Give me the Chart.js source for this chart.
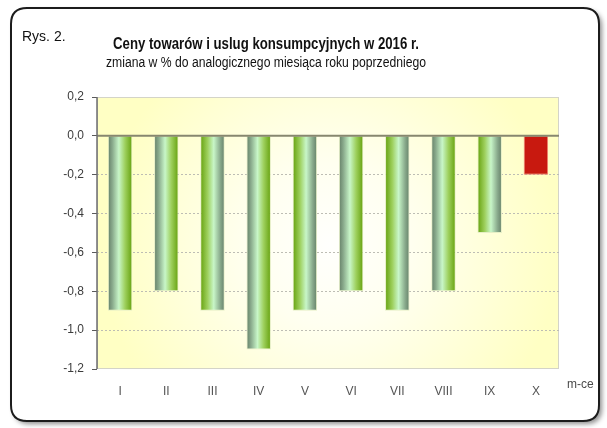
<!DOCTYPE html>
<html>
<head>
<meta charset="utf-8">
<script src="https://cdn.jsdelivr.net/npm/chart.js@4"></script>
<style>
  html, body { margin: 0; padding: 0; background: #fff; }
  #wrap { width: 607px; height: 428px; }
</style>
</head>
<body>
<div id="wrap"><canvas id="cpiChart" width="607" height="428"></canvas></div>
<script>
// Data
const months = ["I", "II", "III", "IV", "V", "VI", "VII", "VIII", "IX", "X"];
const changes = [-0.9, -0.8, -0.9, -1.1, -0.9, -0.8, -0.9, -0.8, -0.5, -0.2];
const yTicks = [0.2, 0, -0.2, -0.4, -0.6, -0.8, -1.0, -1.2];
const figureLabel = "Rys. 2.";
const titleText = "Ceny towarów i uslug konsumpcyjnych w 2016 r.";
const subtitleText = "zmiana w % do analogicznego miesiąca roku poprzedniego";
const axisUnit = "m-ce";

const highlightIndex = 9;          // last month drawn in red
const greenLeft = [2, 4, 6, 8];    // bars whose bright side is on the left
const barPct = 0.53;
const FONT = "'Liberation Sans', Arial, sans-serif";

function barFill(ctx) {
  const i = ctx.dataIndex;
  if (i === highlightIndex) return "#c8190f";
  const chart = ctx.chart;
  const xs = chart.scales && chart.scales.x;
  if (i === undefined || !xs) return "#8fc060";
  const center = xs.getPixelForValue(i);
  const half = (xs.width / months.length) * barPct / 2;
  if (!isFinite(center) || !isFinite(half) || half <= 0) return "#8fc060";
  const g = chart.ctx.createLinearGradient(center - half, 0, center + half, 0);
  const stops = [
    [0, "#647f67"], [0.18, "#88a98b"], [0.45, "#c8f6c8"], [0.7, "#9ed05e"], [1, "#64a00c"]
  ];
  const flip = greenLeft.includes(i);
  stops.forEach(([p, c]) => g.addColorStop(flip ? 1 - p : p, c));
  return g;
}

function roundRect(c, x, y, w, h, r) {
  c.beginPath();
  c.moveTo(x + r, y);
  c.lineTo(x + w - r, y);
  c.quadraticCurveTo(x + w, y, x + w, y + r);
  c.lineTo(x + w, y + h - r);
  c.quadraticCurveTo(x + w, y + h, x + w - r, y + h);
  c.lineTo(x + r, y + h);
  c.quadraticCurveTo(x, y + h, x, y + h - r);
  c.lineTo(x, y + r);
  c.quadraticCurveTo(x, y, x + r, y);
  c.closePath();
}

const decor = {
  id: "decor",
  beforeDraw(chart) {
    const c = chart.ctx;
    const a = chart.chartArea;
    // outer frame with soft shadow
    c.save();
    c.shadowColor = "rgba(0,0,0,0.45)";
    c.shadowBlur = 5;
    c.shadowOffsetX = 3;
    c.shadowOffsetY = 3;
    roundRect(c, 11, 8, 588, 413, 16);
    c.fillStyle = "#fff";
    c.fill();
    c.restore();
    c.save();
    roundRect(c, 11, 8, 588, 413, 16);
    c.lineWidth = 2;
    c.strokeStyle = "#1c1c1c";
    c.stroke();
    c.restore();

    // plot background
    c.save();
    const g = c.createRadialGradient(330, 245, 0, 330, 245, 230);
    g.addColorStop(0, "#fffffd");
    g.addColorStop(0.35, "#fffff0");
    g.addColorStop(1, "#ffffc4");
    c.fillStyle = g;
    c.fillRect(a.left, a.top, a.right - a.left, a.bottom - a.top);
    c.strokeStyle = "#d4d4c8";
    c.lineWidth = 1;
    c.strokeRect(a.left + 0.5, a.top + 0.5, a.right - a.left - 1, a.bottom - a.top - 1);
    c.restore();
  },
  afterDatasetsDraw(chart) {
    const c = chart.ctx;
    const a = chart.chartArea;
    const ys = chart.scales.y;
    const y0 = ys.getPixelForValue(0);
    c.save();
    c.strokeStyle = "#87876f";
    c.lineWidth = 2;
    c.beginPath();
    c.moveTo(a.left, y0);
    c.lineTo(a.right, y0);
    c.stroke();
    c.strokeStyle = "#6e6e6e";
    c.lineWidth = 1.5;
    c.beginPath();
    c.moveTo(a.left, a.top);
    c.lineTo(a.left, a.bottom);
    c.stroke();
    c.restore();
  },
  afterDraw(chart) {
    const c = chart.ctx;
    const a = chart.chartArea;
    c.save();
    c.fillStyle = "#111";
    c.textBaseline = "middle";
    c.textAlign = "left";
    c.font = "14px " + FONT;
    c.fillText(figureLabel, 22, 37, 45);
    c.textAlign = "center";
    c.font = "bold 16px " + FONT;
    c.fillText(titleText, 266, 45, 306);
    c.font = "14px " + FONT;
    c.fillText(subtitleText, 266, 63, 320);
    c.textAlign = "left";
    c.fillStyle = "#4a4a4a";
    c.font = "12px " + FONT;
    c.fillText(axisUnit, a.right + 8, 385);
    c.restore();
  }
};

new Chart(document.getElementById("cpiChart"), {
  type: "bar",
  data: {
    labels: months,
    datasets: [{
      data: changes,
      backgroundColor: barFill,
      borderColor: (ctx) => ctx.dataIndex === highlightIndex ? "#ee8070" : "#e6efc6",
      borderWidth: 1,
      barPercentage: barPct,
      categoryPercentage: 1
    }]
  },
  options: {
    responsive: false,
    animation: false,
    layout: { padding: { top: 97, right: 48, left: 0, bottom: 0 } },
    plugins: {
      legend: { display: false },
      tooltip: { enabled: false }
    },
    scales: {
      x: {
        grid: { display: false },
        border: { display: false },
        ticks: { color: "#555", padding: 7, font: { family: FONT, size: 12 } },
        afterFit(s) { s.height = 59; }
      },
      y: {
        min: -1.2,
        max: 0.2,
        afterBuildTicks(s) { s.ticks = yTicks.map(v => ({ value: v })); },
        ticks: {
          color: "#3c3c3c",
          padding: 8,
          font: { family: FONT, size: 12 },
          callback: (v) => (Math.abs(v) < 1e-9 ? 0 : v).toFixed(1).replace(".", ",")
        },
        grid: {
          color: (ctx) => {
            const v = ctx.tick ? ctx.tick.value : 0;
            return (Math.abs(v) < 1e-9 || v > 0.1 || v < -1.1) ? "rgba(0,0,0,0)" : "#bdbdb4";
          },
          tickColor: "#5a5a5a",
          tickLength: 5,
          lineWidth: 1
        },
        border: { display: false, dash: [2, 2] },
        afterFit(s) { s.width = 97; }
      }
    }
  },
  plugins: [decor]
});
</script>
</body>
</html>
